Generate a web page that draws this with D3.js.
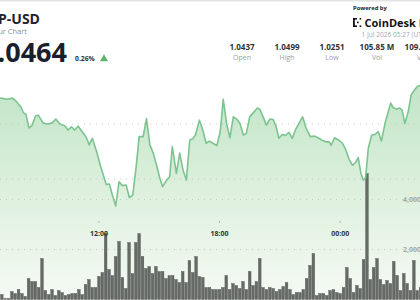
<!DOCTYPE html>
<html>
<head>
<meta charset="utf-8">
<script src="https://cdn.jsdelivr.net/npm/d3@7"></script>
<style>
body { margin: 0; background: #fff; overflow: hidden; }
svg { display: block; font-family: "Open Sans", "Liberation Sans", sans-serif; }
</style>
</head>
<body>
<div id="chart"></div>
<script>
// price line (time, price)
var priceTimes = ["06-30 05:27","06-30 06:08","06-30 06:45","06-30 07:08","06-30 07:25","06-30 07:42","06-30 07:52","06-30 08:07","06-30 08:15","06-30 08:22",
 "06-30 08:31","06-30 08:40","06-30 08:51","06-30 08:59","06-30 09:13","06-30 09:26","06-30 09:41","06-30 09:51","06-30 10:03","06-30 10:18",
 "06-30 10:28","06-30 10:38","06-30 10:47","06-30 10:58","06-30 11:10","06-30 11:22","06-30 11:31","06-30 11:40","06-30 11:54","06-30 12:04",
 "06-30 12:16","06-30 12:22","06-30 12:31","06-30 12:40","06-30 12:50","06-30 13:00","06-30 13:10","06-30 13:21","06-30 13:31","06-30 13:41",
 "06-30 13:51","06-30 14:00","06-30 14:12","06-30 14:22","06-30 14:32","06-30 14:42","06-30 14:52","06-30 15:02","06-30 15:10","06-30 15:22",
 "06-30 15:31","06-30 15:39","06-30 15:51","06-30 16:01","06-30 16:11","06-30 16:21","06-30 16:31","06-30 16:40","06-30 16:48","06-30 17:00",
 "06-30 17:10","06-30 17:20","06-30 17:30","06-30 17:40","06-30 17:52","06-30 18:02","06-30 18:11","06-30 18:21","06-30 18:31","06-30 18:41",
 "06-30 18:51","06-30 19:01","06-30 19:11","06-30 19:20","06-30 19:30","06-30 19:43","06-30 19:53","06-30 20:00","06-30 20:10","06-30 20:20",
 "06-30 20:30","06-30 20:40","06-30 20:49","06-30 20:57","06-30 21:07","06-30 21:17","06-30 21:27","06-30 21:37","06-30 21:47","06-30 21:57",
 "06-30 22:08","06-30 22:18","06-30 22:31","06-30 22:44","06-30 22:54","06-30 23:04","06-30 23:16","06-30 23:28","06-30 23:33","06-30 23:43",
 "06-30 23:55","07-01 00:07","07-01 00:17","07-01 00:27","07-01 00:37","07-01 00:46","07-01 00:54","07-01 01:02","07-01 01:09","07-01 01:16",
 "07-01 01:24","07-01 01:34","07-01 01:44","07-01 01:54","07-01 02:03","07-01 02:15","07-01 02:31","07-01 02:38","07-01 02:48","07-01 02:58",
 "07-01 03:05","07-01 03:13","07-01 03:23","07-01 03:32","07-01 03:42","07-01 03:52","07-01 04:22","07-01 04:52","07-01 05:27"];
var priceValues = [1.0449,1.0451,1.0445,1.0447,1.0445,1.0447,1.0442,1.0431,1.0420,1.0418,
 1.0393,1.0397,1.0415,1.0416,1.0402,1.0400,1.0402,1.0409,1.0400,1.0397,
 1.0389,1.0395,1.0389,1.0396,1.0386,1.0376,1.0362,1.0374,1.0348,1.0325,
 1.0301,1.0290,1.0291,1.0271,1.0251,1.0295,1.0288,1.0289,1.0266,1.0271,
 1.0322,1.0377,1.0377,1.0410,1.0362,1.0347,1.0325,1.0301,1.0286,1.0298,
 1.0304,1.0359,1.0310,1.0347,1.0316,1.0298,1.0371,1.0373,1.0380,1.0407,
 1.0389,1.0365,1.0369,1.0365,1.0361,1.0386,1.0445,1.0401,1.0375,1.0413,
 1.0409,1.0401,1.0380,1.0383,1.0413,1.0422,1.0429,1.0427,1.0413,1.0398,
 1.0409,1.0408,1.0395,1.0374,1.0381,1.0379,1.0385,1.0374,1.0390,1.0401,
 1.0413,1.0393,1.0377,1.0378,1.0375,1.0371,1.0368,1.0367,1.0361,1.0375,
 1.0371,1.0365,1.0353,1.0335,1.0325,1.0330,1.0339,1.0310,1.0298,1.0302,
 1.0356,1.0380,1.0381,1.0386,1.0369,1.0404,1.0438,1.0430,1.0427,1.0429,
 1.0425,1.0401,1.0422,1.0453,1.0462,1.0469,1.0473,1.0465,1.0464];

// 10 minute volume bars, first one starts here
var volStart = "06-30 07:05";
var volValues = [200,40,40,320,240,400,240,120,840,720,720,480,1640,360,200,400,160,360,280,160,
 200,240,240,400,200,600,800,480,480,920,1080,2640,1200,960,1720,2320,880,440,2280,1040,
 2280,2640,1720,1240,1320,1040,1320,1120,1120,840,960,960,800,680,1120,680,1560,1080,1720,920,
 880,480,480,
 400,400,400,480,960,400,640,560,440,720,400,1120,560,720,1640,480,400,480,440,320,
 400,520,680,400,200,280,280,400,840,1360,1840,160,240,240,160,360,400,280,240,480,
 1280,840,280,560,440,1600,5040,800,1280,1640,800,600,760,640,1520,960,360,1040,640,360,
 1560,360,480];

var timeTicks = ["06-30 12:00", "06-30 18:00", "07-01 00:00"];
var timeTickLabels = ["12:00", "18:00", "00:00"];
var priceGrid = [1.03, 1.04];
var volTicks = [2000, 4000];
var statValues = ["1.0437", "1.0499", "1.0251", "105.85 M", "109.61 M"];
var statLabels = ["Open", "High", "Low", "Vol", "Vol"];

var parseT = d3.timeParse("%Y-%m-%d %H:%M");
var pt = function(s) { return parseT("2026-" + s); };

var width = 420, height = 300;

var svg = d3.select("#chart").append("svg")
    .attr("width", width)
    .attr("height", height);

// widget is wider than the window, so the scale runs past both edges
var x = d3.scaleTime()
    .domain([pt("06-30 05:27"), pt("07-01 05:27")])
    .range([-32.7, 449.7]);
var y = d3.scaleLinear().domain([1.03, 1.04]).range([179, 124]);
var yv = d3.scaleLinear().domain([0, 4000]).range([299.5, 199.5]);

var priceData = priceTimes.map(function(t, i) { return {t: pt(t), v: priceValues[i]}; });
var v0 = pt(volStart);
var volData = volValues.map(function(v, i) {
    return {t0: d3.timeMinute.offset(v0, 10 * i), t1: d3.timeMinute.offset(v0, 10 * (i + 1)), v: v};
});

// top border
svg.append("rect").attr("x", 0).attr("y", 0).attr("width", width).attr("height", 1.5).attr("fill", "#e4e4e4");

// gradient under the line
var grad = svg.append("defs").append("linearGradient")
    .attr("id", "fillGrad")
    .attr("gradientUnits", "userSpaceOnUse")
    .attr("x1", 0).attr("y1", 85).attr("x2", 0).attr("y2", 300);
grad.append("stop").attr("offset", "0%").attr("stop-color", "#c1e5c7");
grad.append("stop").attr("offset", "55%").attr("stop-color", "#e0f1e0");
grad.append("stop").attr("offset", "100%").attr("stop-color", "#f5faf4");

var area = d3.area()
    .x(function(d) { return x(d.t); })
    .y0(300)
    .y1(function(d) { return y(d.v); });

svg.append("path")
    .datum(priceData)
    .attr("d", area)
    .attr("fill", "url(#fillGrad)");

// dotted grid lines
svg.append("g").selectAll("line").data(priceGrid).enter()
    .append("line")
    .attr("x1", 0).attr("x2", width)
    .attr("y1", function(d) { return y(d); })
    .attr("y2", function(d) { return y(d); })
    .attr("stroke", "#c4cbc4")
    .attr("stroke-width", 1)
    .attr("stroke-dasharray", "1,5");

svg.append("g").selectAll("line").data(volTicks).enter()
    .append("line")
    .attr("x1", 0).attr("x2", width)
    .attr("y1", function(d) { return yv(d); })
    .attr("y2", function(d) { return yv(d); })
    .attr("stroke", "#c4cbc4")
    .attr("stroke-width", 1)
    .attr("stroke-dasharray", "1,5");

// volume labels on the right
svg.append("g").selectAll("text").data(volTicks).enter()
    .append("text")
    .attr("x", 403)
    .attr("y", function(d) { return yv(d) + 2.5; })
    .attr("font-size", 7)
    .attr("font-weight", "bold")
    .attr("fill", "#a3a8a3")
    .text(function(d) { return d3.format(",")(d); });

// volume bars
svg.append("g").selectAll("rect").data(volData).enter()
    .append("rect")
    .attr("x", function(d) { return x(d.t0) + 0.35; })
    .attr("width", function(d) { return x(d.t1) - x(d.t0) - 0.7; })
    .attr("y", function(d) { return yv(d.v); })
    .attr("height", function(d) { return yv(0) - yv(d.v); })
    .attr("fill", "#676b67")
    .attr("stroke", "#4f524f")
    .attr("stroke-width", 0.4);

// price line
var line = d3.line()
    .x(function(d) { return x(d.t); })
    .y(function(d) { return y(d.v); });

svg.append("path")
    .datum(priceData)
    .attr("d", line)
    .attr("fill", "none")
    .attr("stroke", "#7cc48f")
    .attr("stroke-width", 1.6)
    .attr("stroke-linejoin", "round");

// time axis, tiny tick + label
var tt = svg.append("g").selectAll("g").data(timeTicks).enter().append("g")
    .attr("transform", function(d) { return "translate(" + x(pt(d)) + ",0)"; });
tt.append("line")
    .attr("y1", 221).attr("y2", 222.5)
    .attr("stroke", "#9aa09a");
tt.append("text")
    .attr("y", 236)
    .attr("text-anchor", "middle")
    .attr("font-size", 7)
    .attr("font-weight", "bold")
    .attr("fill", "#333")
    .text(function(d, i) { return timeTickLabels[i]; });

// header, left part (cut by the window edge like the widget)
svg.append("text")
    .attr("x", 40).attr("y", 24)
    .attr("text-anchor", "end")
    .attr("font-size", 14).attr("font-weight", "bold")
    .attr("fill", "#1d2430")
    .text("XRP-USD");
svg.append("text")
    .attr("x", 27).attr("y", 33.5)
    .attr("text-anchor", "end")
    .attr("font-size", 7.5)
    .attr("fill", "#8a8f96")
    .text("24 Hour Chart");
svg.append("text")
    .attr("x", 67).attr("y", 61.5)
    .attr("text-anchor", "end")
    .attr("font-size", 27).attr("font-weight", "bold")
    .attr("fill", "#18202c")
    .text("1.0464");
svg.append("text")
    .attr("x", 75).attr("y", 61)
    .attr("font-size", 6.8).attr("font-weight", "bold")
    .attr("fill", "#2a2f36")
    .text("0.26%");
svg.append("path")
    .attr("d", d3.symbol().type(d3.symbolTriangle).size(28))
    .attr("transform", "translate(104,59)")
    .attr("fill", "#5cb56a");

// header, right part
svg.append("text")
    .attr("x", 353).attr("y", 10)
    .attr("font-size", 5.8).attr("font-weight", "bold")
    .attr("fill", "#222")
    .text("Powered by");
var logo = svg.append("g").attr("fill", "#111");
logo.append("rect").attr("x", 353).attr("y", 18).attr("width", 1.8).attr("height", 9);
logo.append("rect").attr("x", 353).attr("y", 18).attr("width", 4).attr("height", 1.6);
logo.append("rect").attr("x", 353).attr("y", 25.4).attr("width", 4).attr("height", 1.6);
logo.append("rect").attr("x", 357).attr("y", 21.6).attr("width", 1.6).attr("height", 1.6);
logo.append("rect").attr("x", 359.6).attr("y", 18).attr("width", 1.6).attr("height", 1.6);
logo.append("rect").attr("x", 359.6).attr("y", 25.4).attr("width", 1.6).attr("height", 1.6);
svg.append("text")
    .attr("x", 364.5).attr("y", 26.5)
    .attr("font-size", 11).attr("font-weight", "bold")
    .attr("fill", "#111")
    .text("CoinDesk Data");
svg.append("text")
    .attr("x", 361.5).attr("y", 36.5)
    .attr("font-size", 6.6)
    .attr("fill", "#a5a9ad")
    .text("1 Jul 2026 05:27 (UTC)");

// open / high / low / vol row
var stat = svg.append("g").selectAll("g").data(statValues).enter().append("g")
    .attr("transform", function(d, i) { return "translate(" + (242 + i * 45) + ",0)"; });
stat.append("text")
    .attr("y", 49.5)
    .attr("text-anchor", "middle")
    .attr("font-size", 8).attr("font-weight", "bold")
    .attr("fill", "#2f343a")
    .text(function(d) { return d; });
stat.append("text")
    .attr("y", 60)
    .attr("text-anchor", "middle")
    .attr("font-size", 7)
    .attr("fill", "#9a9ea3")
    .text(function(d, i) { return statLabels[i]; });
</script>
</body>
</html>
